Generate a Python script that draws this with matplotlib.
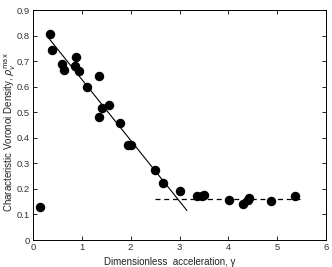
import matplotlib

matplotlib.use("Agg")
import matplotlib.pyplot as plt

# measured points (gamma, rho_v max)
gamma = [0.14, 0.35, 0.38, 0.59, 0.63, 0.87, 0.88, 0.94, 1.11, 1.35, 1.35, 1.41,
         1.56, 1.78, 1.95, 2.01, 2.50, 2.67, 3.02, 3.35, 3.46, 3.51, 4.01, 4.30,
         4.40, 4.43, 4.88, 5.36]
rho = [0.13, 0.805, 0.745, 0.69, 0.665, 0.68, 0.715, 0.66, 0.60, 0.64, 0.48, 0.515,
       0.53, 0.457, 0.372, 0.372, 0.274, 0.225, 0.19, 0.171, 0.171, 0.175, 0.156, 0.142,
       0.155, 0.165, 0.154, 0.173]

# linear fit of the decreasing branch, and plateau level
fit_x = [0.33, 3.15]
fit_y = [0.788, 0.116]
plateau_x = [2.5, 5.5]
plateau_y = [0.162, 0.162]

plt.rcParams["font.family"] = ["Liberation Sans", "DejaVu Sans"]

fig = plt.figure(figsize=(3.32, 2.67), dpi=100)
ax = fig.add_axes([33 / 332, 27 / 267, 293 / 332, 230 / 267])

ax.plot(fit_x, fit_y, color="black", linewidth=0.8)
ax.plot(plateau_x, plateau_y, color="black", linewidth=0.9, linestyle=(0, (4, 3)))
ax.plot(gamma, rho, "o", color="black", markersize=5.8)

ax.set_xlim(0, 6)
ax.set_ylim(0, 0.9)
ax.set_xticks(range(0, 7))
ax.set_yticks([i / 10 for i in range(10)])
ax.set_yticklabels(["0"] + [f"{i / 10:.1f}" for i in range(1, 10)])
ax.tick_params(direction="in", length=3, width=0.6, labelsize=6.8, top=True, right=True,
               pad=2, labelcolor="#333333")
for s in ax.spines.values():
    s.set_linewidth(0.7)

ax.set_xlabel("Dimensionless  acceleration, γ", fontsize=7, color="#222222")
ax.xaxis.set_label_coords((170 - 33) / 293, -0.075)
ax.set_ylabel(r"Characteristic Voronoi Density, $\rho_v^{\mathrm{max}}$", fontsize=7,
              color="#222222")
ax.yaxis.set_label_coords(-0.052, 0.47)

fig.savefig("out.png", dpi=100)
